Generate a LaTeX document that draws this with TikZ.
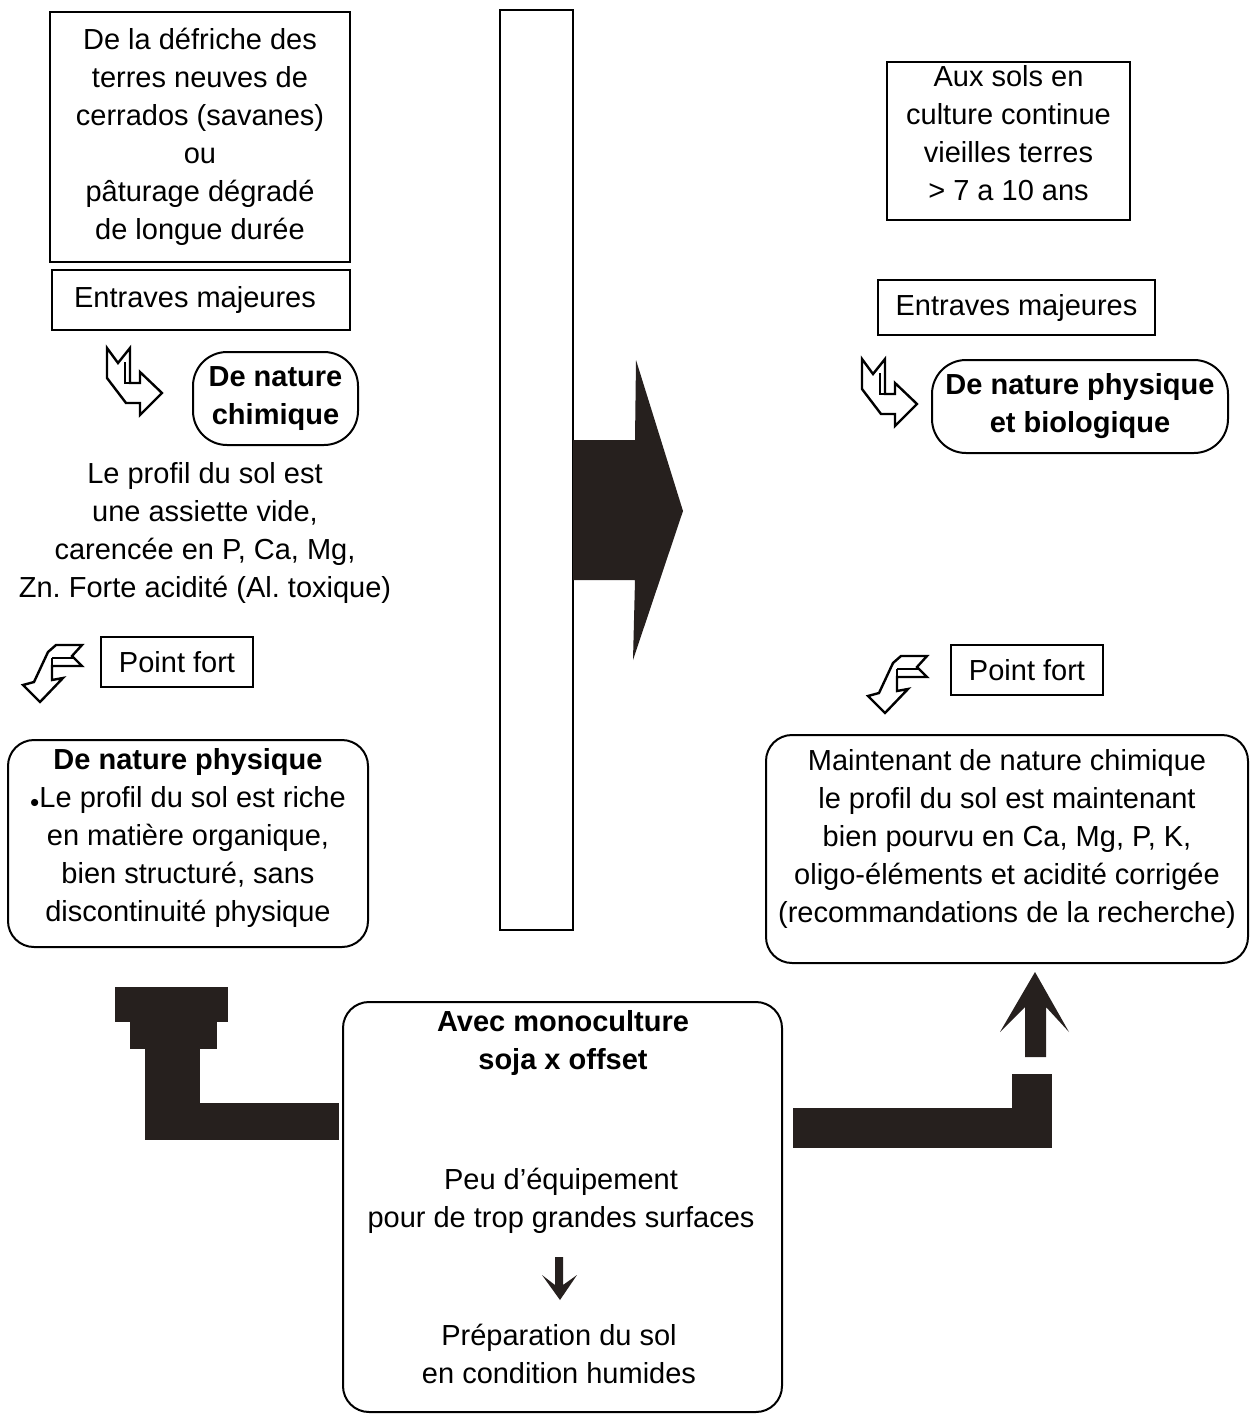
\documentclass[tikz,border=0pt]{standalone}
\usepackage{fontspec}
\setmainfont{Liberation Sans}
\frenchspacing
\usetikzlibrary{positioning,arrows.meta}
\definecolor{ink}{RGB}{38,32,30}
\tikzset{
  txt/.style={font=\fontsize{14.5}{19}\selectfont, align=center, inner sep=0pt},
  btxt/.style={txt, font=\fontsize{14.5}{19}\selectfont\bfseries},
  sqbox/.style={draw, line width=1pt, txt},
  rndbox/.style={sqbox, rounded corners=13pt},
  hollow/.style={draw, line width=1.2pt, line join=miter, fill=white},
  slab/.style={fill=ink},
  turnright/.pic={
    \draw[hollow] (17,8) -- (28,23) -- (40,8) -- (40,43) -- (50,43) -- (50,32) -- (72,53)
      -- (50,75) -- (50,63) -- (36,63) -- (17,38) -- cycle;
    \draw[line width=1.2pt] (35,22) -- (35,43) -- (40,43);
  },
  turndown/.pic={
    \draw[hollow] (72,15) -- (62,26) -- (72,36) -- (42,36) -- (42,50) -- (53,48) -- (30,72)
      -- (13,55) -- (24,52) -- (38,22) -- (46,15) -- cycle;
    \draw[line width=1.2pt] (42,28) -- (42,36);
    \draw[line width=1.2pt] (42,28) -- (64,28);
  }
}
\begin{document}
\begin{tikzpicture}[x=0.5pt,y=-0.5pt]
\useasboundingbox (0,0) rectangle (1252,1414);
% left column
\node[sqbox, minimum width=150pt, minimum height=125pt] (defr) at (200,137)
  {De la défriche des\\terres neuves de\\cerrados (savanes)\\ou\\pâturage dégradé\\de longue durée};
\node[sqbox, minimum width=149pt, minimum height=30pt,
  label={[txt, xshift=-3pt]center:Entraves majeures}] (entrA) at (201,300) {};
\pic at (90,340) {turnright};
\node[rndbox, btxt, rounded corners=17pt, minimum width=82.5pt, minimum height=46.5pt] (chimA) at (275.5,398.5)
  {De nature\\chimique};
\node[txt] (profil) at (205,533)
  {Le profil du sol est\\une assiette vide,\\carencée en P, Ca, Mg,\\Zn. Forte acidité (Al. toxique)};
\pic at (10,630) {turndown};
\node[sqbox, minimum width=76pt, minimum height=25pt] (fortA) at (177,662) {Point fort};
\node[rndbox, minimum width=180pt, minimum height=103.5pt,
  label={[txt, yshift=3pt]center:{\textbf{De nature physique}\\{\small$\bullet$}Le profil du sol est riche\\en matière organique,\\bien structuré, sans\\discontinuité physique}}]
  (physA) at (188,843.5) {};
% middle bar and big arrow
\node[draw, line width=1pt, inner sep=0pt, minimum width=36.5pt, minimum height=460pt] (bar) at (536.5,470) {};
\fill[slab] (573,440) -- (635,440) -- (636,360) -- (683,511) -- (633,660) -- (635,580) -- (573,580) -- cycle;
% right column
\node[sqbox, minimum width=121.5pt, minimum height=79pt,
  label={[txt, yshift=4pt]center:{Aux sols en\\culture continue\\vieilles terres\\> 7 a 10 ans}}]
  (vieux) at (1008.5,141) {};
\node[sqbox, minimum width=138.5pt, minimum height=27.5pt] (entrB) at (1016.5,307.5) {Entraves majeures};
\pic at (845,351) {turnright};
\node[rndbox, btxt, rounded corners=17pt, minimum width=148pt, minimum height=46.5pt] (physB) at (1080,406.5)
  {De nature physique\\et biologique};
\pic at (855,641) {turndown};
\node[sqbox, minimum width=76pt, minimum height=25pt] (fortB) at (1027,670) {Point fort};
\node[rndbox, minimum width=241pt, minimum height=114pt,
  label={[txt, yshift=5pt]center:{Maintenant de nature chimique\\le profil du sol est maintenant\\bien pourvu en Ca, Mg, P, K,\\oligo-éléments et acidité corrigée\\(recommandations de la recherche)}}]
  (chimB) at (1007,849) {};
% bottom box
\node[rndbox, minimum width=219.5pt, minimum height=205pt] (mono) at (562.5,1207) {};
\node[btxt] (monoT) at (563,1042.5) {Avec monoculture\\soja x offset};
\node[txt] (equip) at (561,1201) {Peu d’équipement\\pour de trop grandes surfaces};
\node[txt] (prep) at (559,1353.5) {Préparation du sol\\en condition humides};
\fill[slab] (560,1300) -- (542,1275) -- (555,1285) -- (555,1257) -- (563,1257) -- (563,1285) -- (577,1275) -- cycle;
% solid bent arrows
\fill[slab] (115,987) rectangle (228,1022);
\fill[slab] (130,1022) rectangle (217,1049);
\fill[slab] (145,1049) rectangle (200,1140);
\fill[slab] (145,1103) rectangle (339,1140);
\fill[slab] (793,1108) rectangle (1052,1148);
\fill[slab] (1012,1074) rectangle (1052,1148);
\fill[slab] (1035,972) -- (1069,1032) -- (1046,1007) -- (1046,1057) -- (1025,1057) -- (1025,1007) -- (1000,1032) -- cycle;
\end{tikzpicture}
\end{document}
